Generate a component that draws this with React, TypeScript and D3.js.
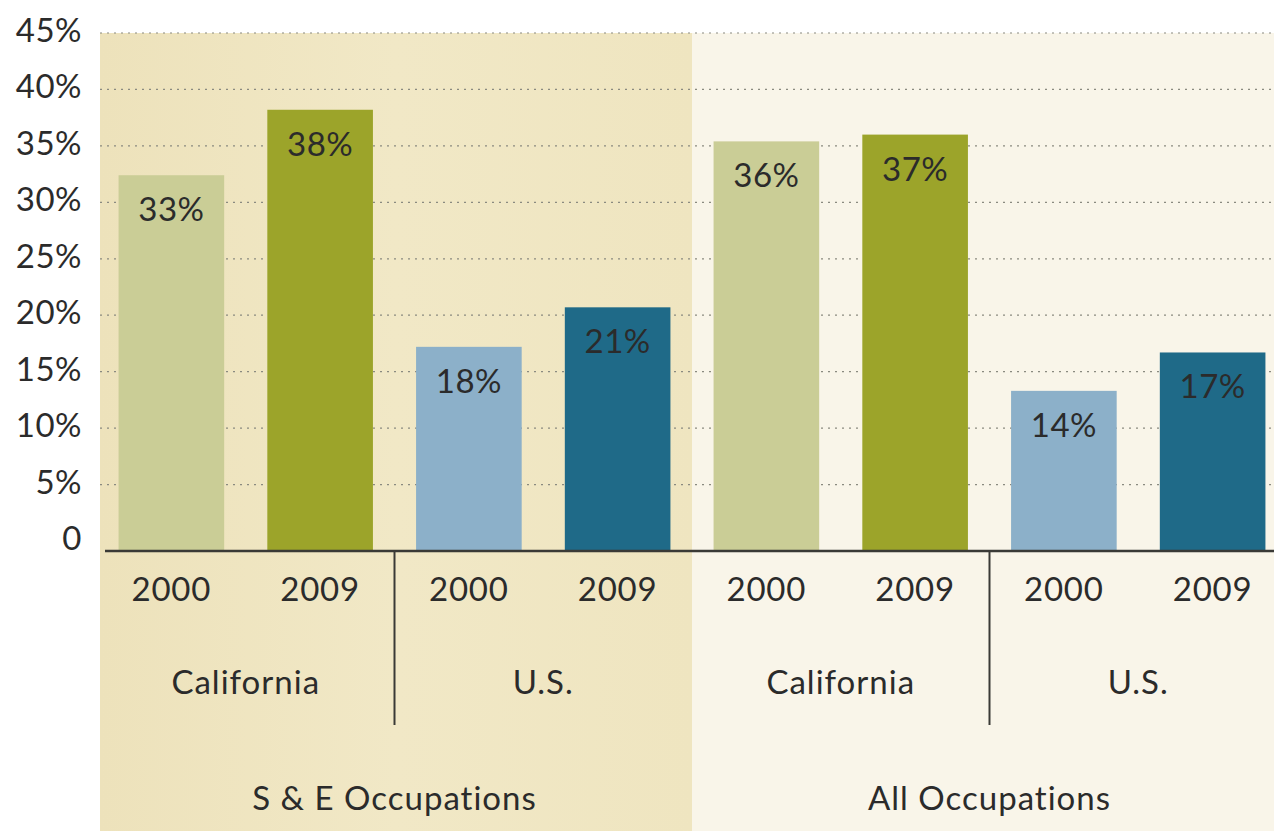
import React from "react";
import * as d3 from "d3";

// bars, left to right
const groups = ["S & E Occupations", "All Occupations"];
const regions = ["California", "U.S.", "California", "U.S."];
const years = ["2000", "2009", "2000", "2009", "2000", "2009", "2000", "2009"];
const values = [32.4, 38.2, 17.2, 20.7, 35.4, 36.0, 13.3, 16.7];
const valueLabels = ["33%", "38%", "18%", "21%", "36%", "37%", "14%", "17%"];
const barColors = ["#cacd96", "#9ca42a", "#8cb0c9", "#1f6a88", "#cacd96", "#9ca42a", "#8cb0c9", "#1f6a88"];
const yTicks = [0, 5, 10, 15, 20, 25, 30, 35, 40, 45];

const W = 1274;
const H = 831;
const FONT = "Lato, 'Open Sans', sans-serif";
const INK = "#2b2b2b";

export default function App() {
    const x = d3.scaleBand<number>()
        .domain(d3.range(values.length))
        .range([97, 1287])
        .paddingInner(0.29)
        .paddingOuter(0.145);
    const y = d3.scaleLinear().domain([0, 45]).range([541, 33]);
    const baseline = y(0) + 10;
    const step = x.step();
    const cx = (i: number) => (x(i) as number) + x.bandwidth() / 2;

    const panelMid = (cx(3) + cx(4)) / 2;
    const plotLeft = cx(0) - step / 2;

    return (
        <svg width={W} height={H} style={{ position: "absolute", left: 0, top: 0 }} fontFamily={FONT}>
            <defs>
                <linearGradient id="tan" x1="0" x2="1" y1="0" y2="0">
                    <stop offset="0" stopColor="#ede2bb" />
                    <stop offset="0.5" stopColor="#f1e8c6" />
                    <stop offset="1" stopColor="#efe5c0" />
                </linearGradient>
            </defs>
            <rect x={0} y={0} width={W} height={H} fill="#ffffff" />
            <rect x={plotLeft + 3} y={y(45)} width={panelMid - plotLeft - 3} height={H - y(45)} fill="url(#tan)" />
            <rect x={panelMid} y={y(45)} width={W - panelMid} height={H - y(45)} fill="#f9f5e9" />

            {/* grid */}
            {yTicks.filter(t => t > 0).map(t => (
                <line key={"g" + t} x1={plotLeft + 3} x2={W} y1={y(t)} y2={y(t)}
                    stroke="#8a8a80" strokeWidth={1.2} strokeDasharray="2 5" />
            ))}

            {/* y labels */}
            {yTicks.map(t => (
                <text key={"t" + t} x={82} y={y(t) - 4} textAnchor="end" dominantBaseline="central"
                    fontSize={33} letterSpacing={0.5} fill={INK}>{t === 0 ? "0" : t + "%"}</text>
            ))}

            {/* bars */}
            {values.map((v, i) => (
                <rect key={"b" + i} x={x(i)} y={y(v)} width={x.bandwidth()} height={baseline - y(v)}
                    fill={barColors[i]} />
            ))}
            {values.map((v, i) => (
                <text key={"v" + i} x={cx(i)} y={y(v) + 33} textAnchor="middle" dominantBaseline="central"
                    fontSize={33} letterSpacing={0.5} fill={INK}>{valueLabels[i]}</text>
            ))}

            {/* axis */}
            <line x1={plotLeft + 8} x2={W} y1={baseline} y2={baseline} stroke="#3a3a36" strokeWidth={2.5} />
            {[2, 6].map(i => (
                <line key={"d" + i} x1={cx(i) - step / 2} x2={cx(i) - step / 2} y1={baseline} y2={725}
                    stroke="#3a3a36" strokeWidth={2} />
            ))}

            {years.map((yr, i) => (
                <text key={"y" + i} x={cx(i)} y={588} textAnchor="middle" dominantBaseline="central"
                    fontSize={33} letterSpacing={0.8} fill={INK}>{yr}</text>
            ))}
            {regions.map((r, j) => (
                <text key={"r" + j} x={(cx(2 * j) + cx(2 * j + 1)) / 2} y={681} textAnchor="middle"
                    dominantBaseline="central" fontSize={33} letterSpacing={1} fill={INK}>{r}</text>
            ))}
            {groups.map((g, k) => (
                <text key={"p" + k} x={(cx(4 * k) + cx(4 * k + 3)) / 2} y={797} textAnchor="middle"
                    dominantBaseline="central" fontSize={33} letterSpacing={1} fill={INK}>{g}</text>
            ))}
        </svg>
    );
}
